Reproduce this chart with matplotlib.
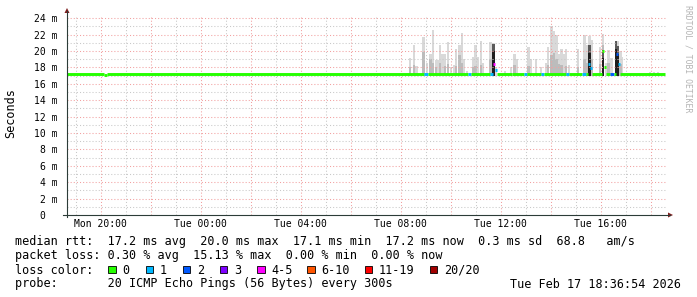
import numpy as np
import matplotlib.pyplot as plt
from matplotlib.patches import Rectangle, Polygon
from matplotlib.lines import Line2D

W, H = 697, 297
MONO = "DejaVu Sans Mono"

# time axis in hours after Mon 00:00 (24h window ending Tue 18:37)
t_left, t_right = 18.65, 42.65
step = 5 / 60

x_ticks = [20, 24, 28, 32, 36, 40]
x_labels = ["Mon 20:00", "Tue 00:00", "Tue 04:00", "Tue 08:00", "Tue 12:00", "Tue 16:00"]
y_ticks = [0, 2, 4, 6, 8, 10, 12, 14, 16, 18, 20, 22, 24]
y_labels = ["0  ", "2 m", "4 m", "6 m", "8 m", "10 m", "12 m", "14 m",
            "16 m", "18 m", "20 m", "22 m", "24 m"]

# median rtt (ms) as runs: start hour, end hour, value, loss bucket
med_start = [18.65, 20.13, 20.25, 32.93, 33.09, 34.69, 34.81, 35.57, 35.69, 35.77,
             35.85, 36.45, 36.93, 37.05, 37.61, 37.73, 38.61, 38.73, 39.25, 39.41,
             39.49, 39.57, 39.65, 40.05, 40.13, 40.21, 40.37, 40.53, 40.61, 40.69, 40.77]
med_end = [20.13, 20.25, 32.93, 33.09, 34.69, 34.81, 35.57, 35.69, 35.77, 35.85,
           36.45, 36.93, 37.05, 37.61, 37.73, 38.61, 38.73, 39.25, 39.41, 39.49,
           39.57, 39.65, 40.05, 40.13, 40.21, 40.37, 40.53, 40.61, 40.69, 40.77, 42.57]
med_val = [17.2, 17.05, 17.2, 17.2, 17.2, 17.2, 17.2, 17.2, 18.4, 17.7,
           17.15, 17.2, 17.2, 17.2, 17.2, 17.2, 17.2, 17.2, 17.2, 17.2,
           18.4, 17.9, 17.2, 20.0, 18.0, 17.2, 17.2, 17.2, 19.6, 18.4, 17.2]
med_loss = [0, 0, 0, 1, 0, 1, 0, 1, 4, 1,
            0, 0, 1, 0, 1, 0, 1, 0, 1, 0,
            1, 1, 0, 0, 0, 0, 2, 0, 2, 1, 0]

# smoke: per 5-min column, highest ping and upper-band level (ms)
smoke_t = [32.37, 32.53, 32.63, 32.91, 33.05, 33.19, 33.29, 33.41, 33.49, 33.57,
           33.67, 33.77, 33.89, 34.01, 34.13, 34.21, 34.35, 34.45, 34.53, 34.65,
           34.89, 34.99, 35.09, 35.21, 35.29, 35.59, 35.71, 35.81, 36.17, 36.41,
           36.55, 36.65, 37.11, 37.21, 37.41, 37.61, 37.81, 37.89, 38.03, 38.13,
           38.23, 38.31, 38.43, 38.53, 38.61, 38.73, 39.09, 39.35, 39.45, 39.55,
           39.63, 39.97, 40.09, 40.21, 40.31, 40.43, 40.61, 40.69, 40.79, 40.85,
           41.97, 42.13, 42.29]
smoke_max = [19.2, 20.7, 18.2, 21.7, 18.6, 19.7, 22.6, 18.9, 18.9, 20.7,
             19.7, 19.7, 21.1, 18.0, 18.3, 20.3, 20.7, 22.2, 19.0, 17.6,
             19.3, 20.7, 19.3, 21.2, 18.5, 21.1, 21.0, 18.0, 17.6, 18.1,
             19.7, 19.0, 20.5, 19.0, 19.0, 18.0, 18.5, 20.5, 23.0, 22.4,
             21.9, 19.7, 20.3, 19.7, 20.3, 18.3, 20.3, 22.0, 20.7, 21.8,
             21.4, 20.5, 22.1, 18.6, 20.1, 19.2, 21.2, 21.2, 20.0, 19.3,
             17.5, 17.5, 17.5]
smoke_mid = [18.0, 18.3, 17.0, 19.9, 17.0, 19.0, 18.5, 18.0, 17.0, 18.5,
             17.0, 18.2, 18.4, 17.0, 17.0, 18.2, 19.5, 18.6, 17.0, 17.0,
             18.0, 18.2, 17.0, 18.3, 17.0, 19.0, 17.0, 17.0, 17.0, 17.0,
             18.3, 17.0, 18.2, 17.0, 17.0, 17.0, 17.0, 18.3, 19.5, 19.8,
             19.0, 18.4, 18.3, 17.0, 18.2, 17.0, 18.1, 19.0, 18.6, 19.0,
             19.0, 18.4, 20.8, 17.0, 18.5, 17.0, 17.0, 17.0, 18.4, 17.0,
             17.0, 17.0, 17.0]
# columns where most pings sat high (dark smoke near the median)
dark_t = [35.71, 39.55, 40.09, 40.61, 40.69]
dark_top = [20.9, 20.7, 20.1, 21.2, 20.6]

loss_colors = ["#26ff00", "#00b8ff", "#0059ff", "#7e00ff",
               "#ff00ff", "#ff5500", "#ff0000", "#a10000"]
loss_labels = ["0", "1", "2", "3", "4-5", "6-10", "11-19", "20/20"]

stats_line = "median rtt:  17.2 ms avg  20.0 ms max  17.1 ms min  17.2 ms now  0.3 ms sd  68.8   am/s"
loss_line = "packet loss: 0.30 % avg  15.13 % max  0.00 % min  0.00 % now"
probe_line = "probe:       20 ICMP Echo Pings (56 Bytes) every 300s"
stamp = "Tue Feb 17 18:36:54 2026"


def fx(x):
    return x / W


def fy(y):
    return 1 - y / H


fig = plt.figure(figsize=(W / 100, H / 100), dpi=100)
fig.patch.set_facecolor("white")
ax = fig.add_axes([67 / W, 1 - 215 / H, 600 / W, 200 / H])
ax.set_xlim(t_left, t_right)
ax.set_ylim(0, 24.4)
for s in ax.spines.values():
    s.set_visible(False)

# grid (rrdtool style dotted lines)
dots = (0, (1, 2))
for h in range(19, 43):
    c = "#f2a0a0" if h % 2 == 0 else "#c8c8c8"
    ax.axvline(h, color=c, lw=0.75, ls=dots, zorder=3)
for v in range(1, 25):
    c = "#f2a0a0" if v % 2 == 0 else "#c8c8c8"
    ax.axhline(v, color=c, lw=0.75, ls=dots, zorder=3)

# smoke
base = 17.0
smax = np.array(smoke_max)
smid = np.array(smoke_mid)
ax.bar(smoke_t, smax - base, bottom=base, width=step, color="#d9d9d9", lw=0, zorder=1)
ax.bar(smoke_t, np.maximum(smid - base, 0), bottom=base, width=step,
       color="#bcbcbc", lw=0, zorder=1.5)
dtop = np.array(dark_top)
ax.bar(dark_t, dtop - base, bottom=base, width=step * 1.3, color="#5a5a5a", lw=0, zorder=2)
ax.bar(dark_t, dtop - 0.9 - base, bottom=base, width=step * 1.3, color="#1e1e1e", lw=0, zorder=2.1)

# median line, one short dash per run, coloured by loss bucket
for s0, s1, v, lo in zip(med_start, med_end, med_val, med_loss):
    ax.plot([s0, s1], [v, v], color=loss_colors[lo], lw=2.1,
            solid_capstyle="butt", zorder=4)

ax.set_xticks(x_ticks, x_labels, fontsize=7, family=MONO)
ax.set_yticks(y_ticks, y_labels, fontsize=7, family=MONO)
ax.tick_params(axis="x", length=0, pad=3)
ax.tick_params(axis="y", length=0, pad=7)

# axes with arrows
axis_c = "#2c3c38"
arrow_c = "#7f1f1f"
fig.add_artist(Line2D([fx(67), fx(67)], [fy(217), fy(11)], color=axis_c, lw=0.8))
fig.add_artist(Line2D([fx(63), fx(670)], [fy(215), fy(215)], color=axis_c, lw=0.8))
fig.add_artist(Polygon([(fx(64.5), fy(13)), (fx(69.5), fy(13)), (fx(67), fy(8))],
                       closed=True, color=arrow_c, lw=0))
fig.add_artist(Polygon([(fx(668), fy(212.5)), (fx(668), fy(217.5)), (fx(673), fy(215))],
                       closed=True, color=arrow_c, lw=0))

fig.text(fx(10.5), fy(113.5), "Seconds", rotation=90, ha="center", va="center",
         fontsize=8.5, family=MONO)
fig.text(fx(688), fy(5), "RRDTOOL / TOBI OETIKER", rotation=270, ha="center", va="top",
         fontsize=5.9, family=MONO, color="#b4b4b4")

# legend block
txt = dict(fontsize=8.5, family=MONO, va="baseline", ha="left")
fig.text(fx(15), fy(245.5), stats_line, **txt)
fig.text(fx(15), fy(259.5), loss_line, **txt)
fig.text(fx(15), fy(273.5), "loss color:", **txt)
fig.text(fx(15), fy(287.5), probe_line, **txt)
fig.text(fx(681), fy(287.5), stamp, fontsize=8.5, family=MONO, va="baseline", ha="right")

box_x = [108.3, 145.7, 182.7, 220, 257.3, 307.3, 365, 430]
for bx, c, lab in zip(box_x, loss_colors, loss_labels):
    fig.add_artist(Rectangle((fx(bx), fy(273.3)), 7.4 / W, 7.6 / H,
                             transform=fig.transFigure, facecolor=c,
                             edgecolor="black", lw=0.6))
    fig.text(fx(bx + 14), fy(273.5), lab, **txt)

fig.savefig("out.png", dpi=100)
